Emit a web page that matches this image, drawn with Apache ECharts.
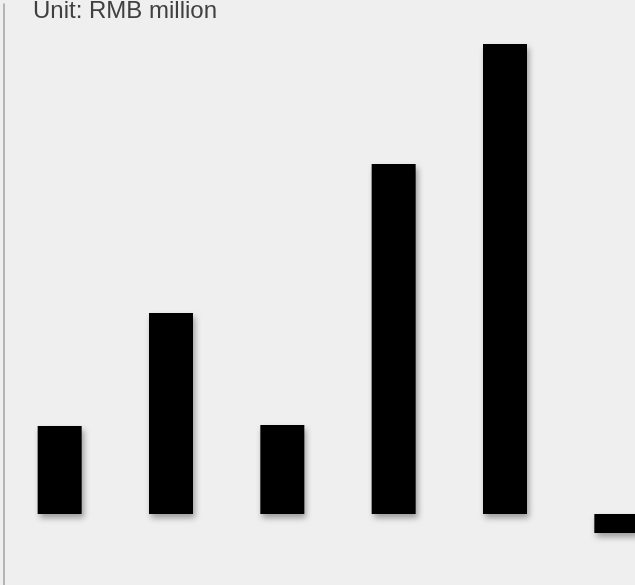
<!DOCTYPE html>
<html>
<head>
<meta charset="utf-8">
<script src="https://cdn.jsdelivr.net/npm/echarts@6/dist/echarts.min.js"></script>
<style>
html,body{margin:0;padding:0;background:#efefef;}
#chart{width:635px;height:585px;}
</style>
</head>
<body>
<div id="chart"></div>
<script>
var categories = ['A', 'B', 'C', 'D', 'E', 'F'];
var values = [88, 201, 89, 350, 470, -19];
var unitLabel = 'Unit: RMB million';

var chart = echarts.init(document.getElementById('chart'));
chart.setOption({
  backgroundColor: '#efefef',
  animation: false,
  graphic: [{
    type: 'text',
    left: 33,
    top: -1,
    style: {
      text: unitLabel,
      font: '24px "Liberation Sans", Arial, sans-serif',
      fill: '#404040'
    }
  }],
  grid: { left: 4, top: 4, right: -37, bottom: 0, containLabel: false, outerBoundsMode: 'none' },
  xAxis: {
    type: 'category',
    data: categories,
    axisLine: { show: false },
    axisTick: { show: false },
    axisLabel: { show: false },
    splitLine: { show: false }
  },
  yAxis: {
    type: 'value',
    min: -71,
    max: 510,
    axisLine: { show: true, lineStyle: { color: '#a0a0a0', width: 1.5 } },
    axisTick: { show: false },
    axisLabel: { show: false },
    splitLine: { show: false }
  },
  series: [{
    type: 'bar',
    data: values,
    barWidth: 44,
    itemStyle: {
      color: '#000000',
      shadowColor: 'rgba(0,0,0,0.35)',
      shadowBlur: 6,
      shadowOffsetX: 2,
      shadowOffsetY: 4
    }
  }]
});
</script>
</body>
</html>
